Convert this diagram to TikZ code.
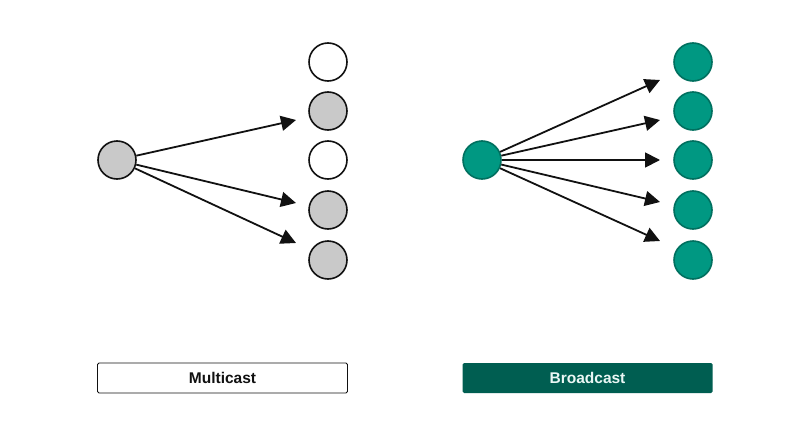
\documentclass[tikz,border=0pt]{standalone}
\usepackage{fontspec}
\setmainfont{Liberation Sans}
\usetikzlibrary{arrows.meta}
\definecolor{greyfill}{HTML}{C9C9C9}
\definecolor{teal1}{HTML}{009882}
\definecolor{teal2}{HTML}{00705F}
\definecolor{boxteal}{HTML}{005E51}
\definecolor{ink}{HTML}{111111}
\begin{document}
\begin{tikzpicture}[x=1pt,y=-1pt,
  greynode/.style={circle,draw=ink,line width=1.6pt,fill=greyfill,minimum size=38pt,inner sep=0pt},
  whitenode/.style={circle,draw=ink,line width=1.6pt,fill=white,minimum size=38pt,inner sep=0pt},
  tealnode/.style={circle,draw=teal2,line width=1.6pt,fill=teal1,minimum size=38pt,inner sep=0pt},
  conn/.style={draw=ink,line width=1.8pt,-{Triangle[length=15pt,width=15pt]},shorten >=0pt},
  labelbox/.style={rounded corners=1.5pt,minimum width=250pt,minimum height=30pt,inner sep=0pt,font=\fontsize{15.5}{18}\selectfont\bfseries}]
\useasboundingbox[fill=white] (0,0) rectangle (787,431);
% Multicast
\node[greynode] (ms) at (117,160) {};
\node[whitenode] (m1) at (328,62) {};
\node[greynode] (m2) at (328,111) {};
\node[whitenode] (m3) at (328,160) {};
\node[greynode] (m4) at (328,210) {};
\node[greynode] (m5) at (328,260) {};
\coordinate (mt2) at (296,120);
\coordinate (mt4) at (296,203);
\coordinate (mt5) at (296,243);
\draw[conn] (ms) -- (mt2);
\draw[conn] (ms) -- (mt4);
\draw[conn] (ms) -- (mt5);
% Broadcast
\node[tealnode] (bs) at (482,160) {};
\node[tealnode] (b1) at (693,62) {};
\node[tealnode] (b2) at (693,111) {};
\node[tealnode] (b3) at (693,160) {};
\node[tealnode] (b4) at (693,210) {};
\node[tealnode] (b5) at (693,260) {};
\coordinate (bt1) at (660,80);
\coordinate (bt2) at (660,120);
\coordinate (bt3) at (660,160);
\coordinate (bt4) at (660,202);
\coordinate (bt5) at (660,241);
\foreach \t in {bt1,bt2,bt3,bt4,bt5} \draw[conn] (bs) -- (\t);
% Labels
\node[labelbox,draw=ink,line width=0.9pt,fill=white,text=ink] (ml) at (222.5,378) {Multicast};
\node[labelbox,fill=boxteal,text=white!92!teal1] (bl) at (587.5,378) {Broadcast};
\end{tikzpicture}
\end{document}
